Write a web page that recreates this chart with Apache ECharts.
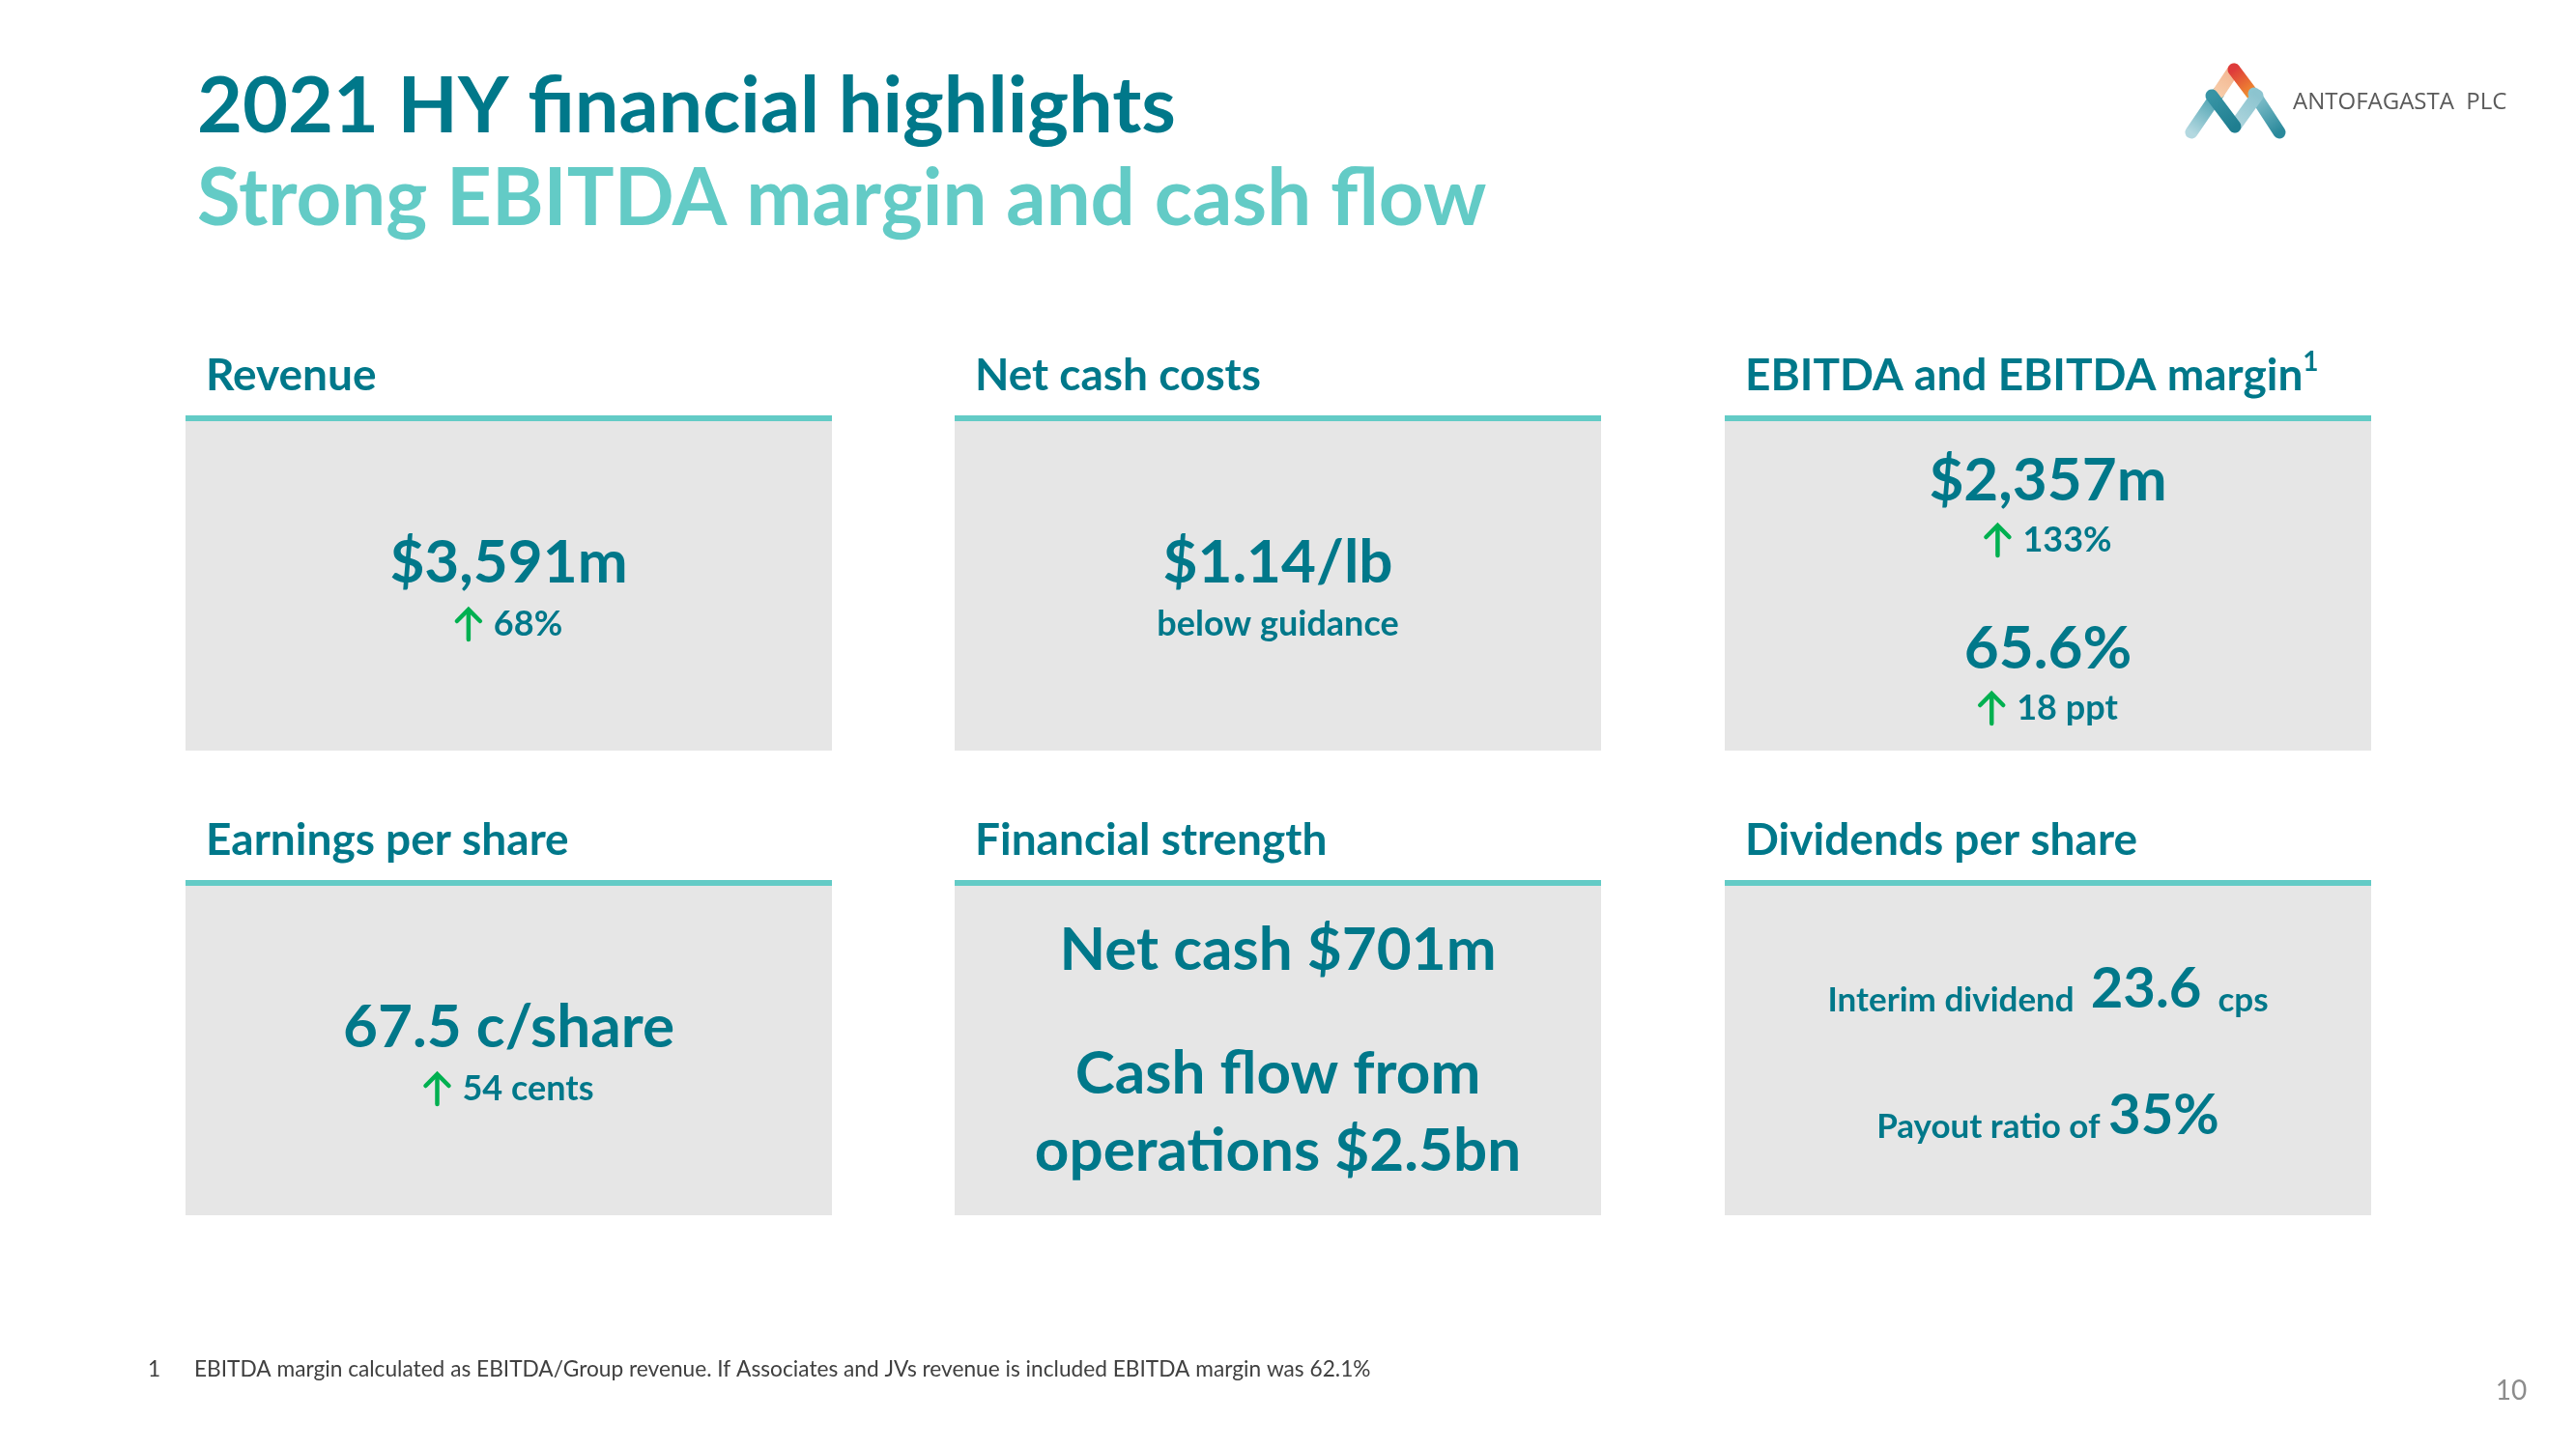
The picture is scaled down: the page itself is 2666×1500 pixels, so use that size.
<!DOCTYPE html>
<html>
<head>
<meta charset="utf-8">
<title>2021 HY financial highlights</title>
<script src="https://cdn.jsdelivr.net/npm/echarts@6/dist/echarts.min.js"></script>
<style>
  html, body { margin: 0; padding: 0; background: #fff; }
  #main { width: 2666px; height: 1500px; }
</style>
</head>
<body>
<div id="main"></div>
<script>
// slide data
const slideTitle = '2021 HY financial highlights';
const slideSubtitle = 'Strong EBITDA margin and cash flow';
const cardTitles = ['Revenue', 'Net cash costs', 'EBITDA and EBITDA margin', 'Earnings per share', 'Financial strength', 'Dividends per share'];
const keyFigures = ['$3,591m', '$1.14/lb', '$2,357m', '65.6%', '67.5 c/share'];
const keyChanges = ['68%', 'below guidance', '133%', '18 ppt', '54 cents'];
const changeIsUp = [true, false, true, true, true];
const strengthLines = ['Net cash $701m', 'Cash flow from', 'operations $2.5bn'];
const dividendLabels = ['Interim dividend', 'Payout ratio of'];
const dividendValues = ['23.6', '35%'];
const dividendUnits = ['cps', ''];
const footnoteMark = '1';
const footnoteText = 'EBITDA margin calculated as EBITDA/Group revenue. If Associates and JVs revenue is included EBITDA margin was 62.1%';
const pageNumber = '10';

// colours / fonts
const DARK = '#00788A';
const LIGHT = '#63CBC6';
const BOX = '#E6E6E6';
const GREEN = '#00B050';
const FONT = 'Lato, "Open Sans", sans-serif';

// layout
const colX = [192, 988, 1785];
const rowY = [430, 911];   // top of the teal bar
const cardW = 669, barH = 6, boxH = 341;
const arrowW = 28, arrowGap = 12;

const rich = {
  f: { fontFamily: FONT, fontWeight: 'bold', fontSize: 62, fill: DARK },
  c: { fontFamily: FONT, fontWeight: 'bold', fontSize: 36, fill: DARK },
  h: { fontFamily: FONT, fontWeight: 'bold', fontSize: 46, fill: DARK, lineHeight: 56 },
  sup: { fontFamily: FONT, fontWeight: 'bold', fontSize: 28, fill: DARK, lineHeight: 30, verticalAlign: 'top' },
  s: { fontFamily: FONT, fontWeight: 'bold', fontSize: 35, fill: DARK, lineHeight: 44, verticalAlign: 'bottom' },
  v: { fontFamily: FONT, fontWeight: 'bold', fontSize: 58, fill: DARK, lineHeight: 58, verticalAlign: 'bottom' }
};

// text width, to place the green arrow in front of a centred change label
const measureCtx = document.createElement('canvas').getContext('2d');
function textWidth(str, font) {
  measureCtx.font = font;
  return measureCtx.measureText(str).width;
}

function figure(str) { return '{f|' + str + '}'; }

// content of each card: [text, offset from bar top, index into keyChanges or -1]
const cardLines = [
  [[figure(keyFigures[0]), 153, -1], [null, 216, 0]],
  [[figure(keyFigures[1]), 153, -1], [null, 216, 1]],
  [[figure(keyFigures[2]), 68, -1], [null, 129, 2], [figure(keyFigures[3]), 242, -1], [null, 303, 3]],
  [[figure(keyFigures[4]), 153, -1], [null, 216, 4]],
  [[figure(strengthLines[0]), 73, -1], [figure(strengthLines[1]), 201, -1], [figure(strengthLines[2]), 281, -1]],
  [
    ['{s|' + dividendLabels[0] + '}  {v|' + dividendValues[0] + '}  {s|' + dividendUnits[0] + '}', 113, -1],
    ['{s|' + dividendLabels[1] + '} {v|' + dividendValues[1] + '}', 244, -1]
  ]
];

const elements = [];

// titles
elements.push({
  type: 'text', x: 204, y: 111,
  style: { text: slideTitle, fontFamily: FONT, fontWeight: 'bold', fontSize: 81, fill: DARK, align: 'left', verticalAlign: 'middle' }
});
elements.push({
  type: 'text', x: 204, y: 207,
  style: { text: slideSubtitle, fontFamily: FONT, fontWeight: 'bold', fontSize: 81.5, fill: LIGHT, align: 'left', verticalAlign: 'middle' }
});

// logo strokes: x1, y1, x2, y2, colour at start, colour at end
const logoStrokes = [
  [2268, 137, 2296, 96, '#B3D8E0', '#3C9AAA'],
  [2296, 96, 2312, 72, '#F7CBA8', '#F3B58F'],
  [2312, 72, 2333, 100, '#DE3B3B', '#F29A2E'],
  [2333, 97, 2359, 137, '#8CC6D1', '#2A899B'],
  [2313, 131, 2336, 99, '#B0D6DE', '#8CC4CF'],
  [2289, 99, 2313, 131, '#3794A5', '#1F7E90']
];
logoStrokes.forEach(function (s) {
  elements.push({
    type: 'line',
    shape: { x1: s[0], y1: s[1], x2: s[2], y2: s[3] },
    style: {
      stroke: new echarts.graphic.LinearGradient(s[0], s[1], s[2], s[3], [
        { offset: 0, color: s[4] }, { offset: 1, color: s[5] }
      ], true),
      lineWidth: 13, lineCap: 'round'
    }
  });
});
elements.push({
  type: 'text', x: 2373, y: 106,
  style: { text: 'ANTOFAGASTA  PLC', fontFamily: '"Open Sans"', fontSize: 24, fill: '#5A5A5A', align: 'left', verticalAlign: 'middle' }
});

function pushArrow(cx, cy) {
  elements.push({
    type: 'polyline',
    shape: { points: [[cx - 12, cy - 3], [cx, cy - 15], [cx + 12, cy - 3]] },
    style: { stroke: GREEN, lineWidth: 4.5, fill: null, lineJoin: 'miter', lineCap: 'round' }
  });
  elements.push({
    type: 'line',
    shape: { x1: cx, y1: cy - 14, x2: cx, y2: cy + 16 },
    style: { stroke: GREEN, lineWidth: 4.5, lineCap: 'round' }
  });
}

// cards
cardTitles.forEach(function (title, i) {
  const x = colX[i % 3];
  const top = rowY[Math.floor(i / 3)];
  const cx = x + cardW / 2;
  elements.push({ type: 'rect', shape: { x: x, y: top, width: cardW, height: barH }, style: { fill: LIGHT } });
  elements.push({ type: 'rect', shape: { x: x, y: top + barH, width: cardW, height: boxH }, style: { fill: BOX } });
  const headText = i === 2 ? '{h|' + title + '}{sup|1}' : '{h|' + title + '}';
  elements.push({
    type: 'text', x: x + 21, y: top - 41,
    style: { text: headText, rich: rich, align: 'left', verticalAlign: 'middle' }
  });
  cardLines[i].forEach(function (ln) {
    const y = top + ln[1];
    if (ln[2] >= 0) {
      const k = ln[2];
      const label = keyChanges[k];
      if (changeIsUp[k]) {
        const w = textWidth(label, 'bold 36px Lato');
        const left = cx - (arrowW + arrowGap + w) / 2;
        pushArrow(left + arrowW / 2, y);
        elements.push({
          type: 'text', x: left + arrowW + arrowGap, y: y,
          style: { text: label, fontFamily: FONT, fontWeight: 'bold', fontSize: 36, fill: DARK, align: 'left', verticalAlign: 'middle' }
        });
      } else {
        elements.push({
          type: 'text', x: cx, y: y,
          style: { text: label, fontFamily: FONT, fontWeight: 'bold', fontSize: 36, fill: DARK, align: 'center', verticalAlign: 'middle' }
        });
      }
      return;
    }
    elements.push({
      type: 'text', x: cx, y: y,
      style: {
        text: ln[0], rich: rich, align: 'center', verticalAlign: 'middle',
        fontFamily: FONT, fontWeight: 'bold', fontSize: 35, fill: DARK
      }
    });
  });
});

// footnote and page number
elements.push({
  type: 'text', x: 153, y: 1418,
  style: { text: footnoteMark, fontFamily: FONT, fontSize: 22.7, fill: '#404040', align: 'left', verticalAlign: 'middle' }
});
elements.push({
  type: 'text', x: 201, y: 1418,
  style: { text: footnoteText, fontFamily: FONT, fontSize: 22.7, fill: '#404040', align: 'left', verticalAlign: 'middle' }
});
elements.push({
  type: 'text', x: 2599, y: 1440,
  style: { text: pageNumber, fontFamily: FONT, fontSize: 28, fill: '#8C8C8C', align: 'center', verticalAlign: 'middle' }
});

const myChart = echarts.init(document.getElementById('main'));
myChart.setOption({
  backgroundColor: '#ffffff',
  animation: false,
  graphic: { elements: elements }
});
window.addEventListener('resize', function () { myChart.resize(); });
</script>
</body>
</html>
